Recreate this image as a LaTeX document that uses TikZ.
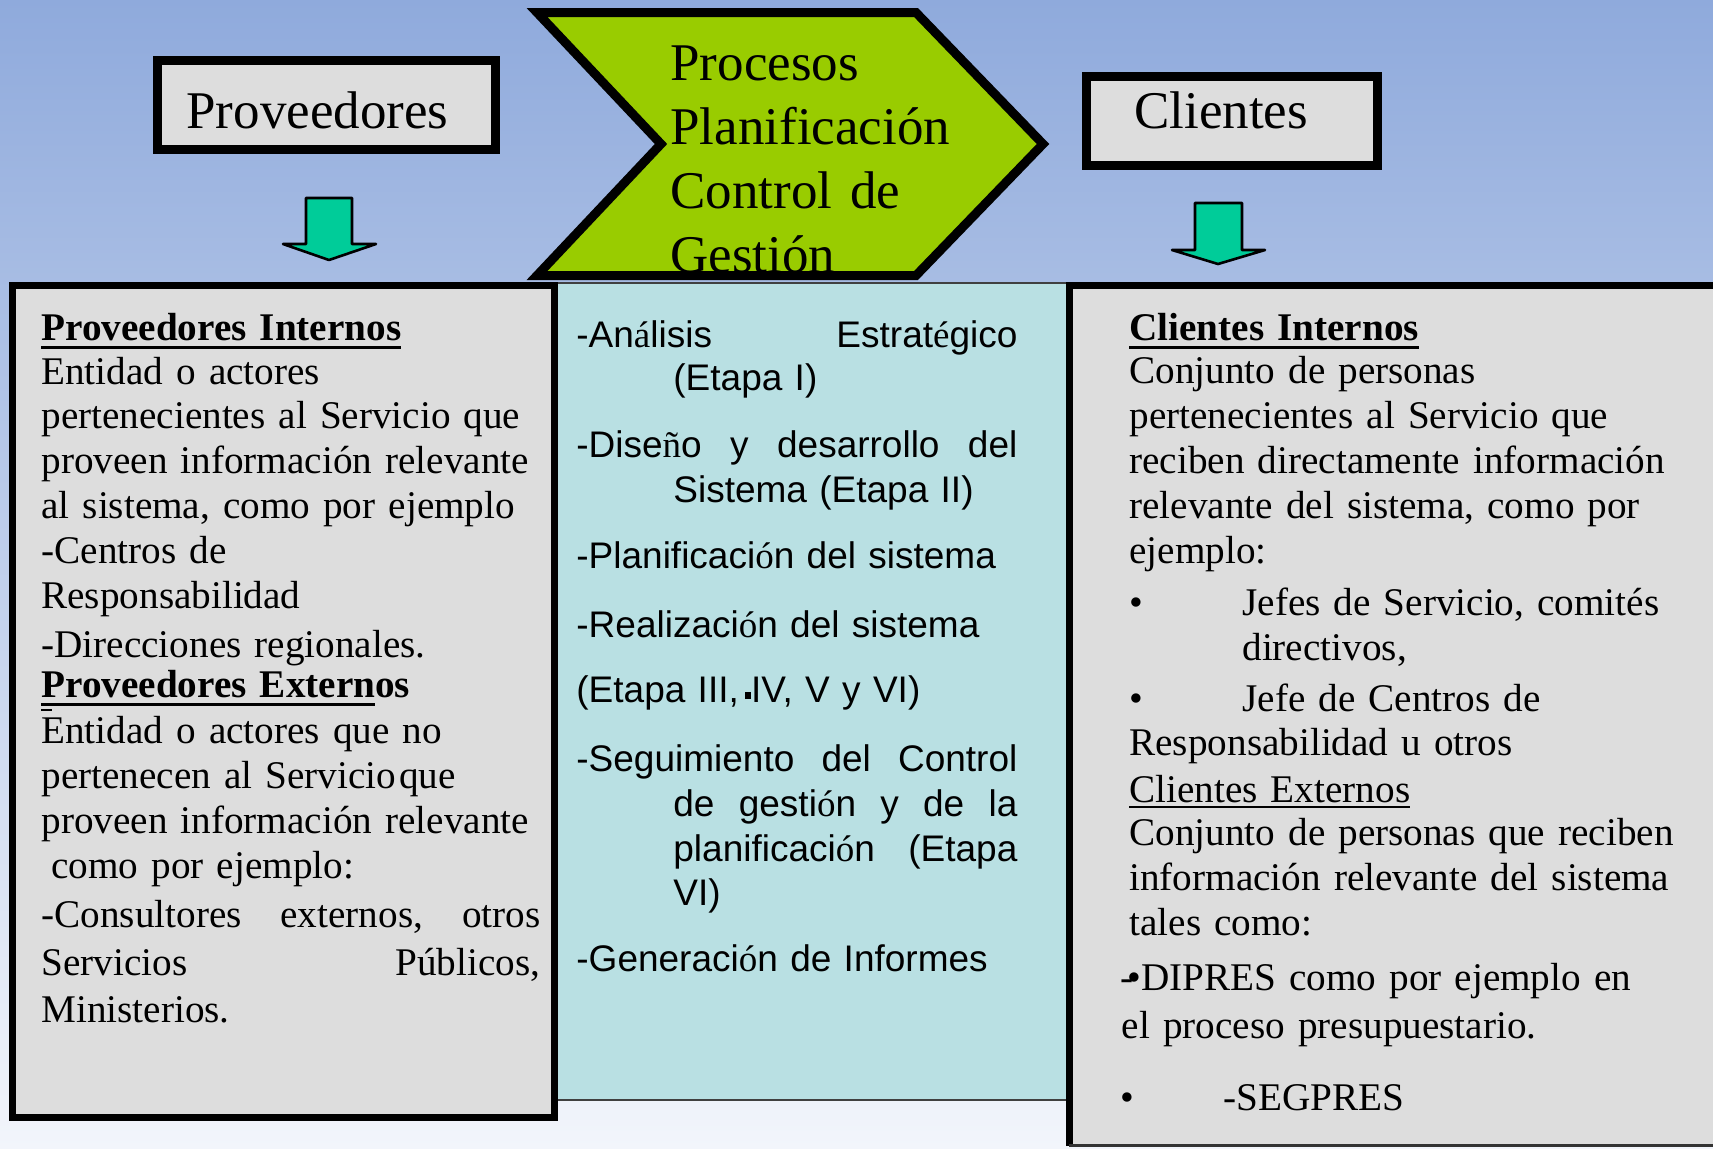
\documentclass[tikz,border=0pt]{standalone}
\usepackage{fontspec}
\setmainfont{Liberation Serif}
\newfontfamily\arialf{Liberation Sans}

\definecolor{bgtop}{RGB}{143,170,220}
\definecolor{bgbot}{RGB}{242,245,251}
\definecolor{boxgray}{RGB}{221,221,221}
\definecolor{procfill}{RGB}{185,224,227}
\definecolor{chevgreen}{RGB}{153,204,0}
\definecolor{arrowgreen}{RGB}{0,204,153}

% underline with own depth and thickness
\newcommand{\ulin}[3]{\leavevmode\setbox0\hbox{#3}\rlap{\rule[#1]{\wd0}{#2}}\box0}
% accented letters came out in the serif face
\newcommand{\sr}[1]{{\rmfamily #1}}
% justified line of given width
\newcommand{\jl}[2]{\leavevmode\hbox to #1{#2}}

\begin{document}
\begin{tikzpicture}[x=0.5pt,y=0.5pt,yscale=-1,
  panel/.style={line width=3.5pt},
  titletext/.style={inner sep=0pt,anchor=base west,font=\fontsize{26.5}{32}\selectfont},
  bodytext/.style={inner sep=0pt,anchor=base west,align=left,font=\fontsize{19.6}{22.5}\selectfont},
  blockarrow/.style={fill=arrowgreen,draw=black,line width=1.3pt,line join=round}]
\useasboundingbox (0,0) rectangle (1713,1148);

%Background
\shade[top color=bgtop,bottom color=bgbot] (0,0) rectangle (1713,1148);

%Middle panel
\filldraw[fill=procfill,draw=black!75,line width=1pt] (557,283) rectangle (1068,1100);
%Left panel
\filldraw[fill=boxgray,panel] (12.5,285.5) rectangle (554.5,1117.5);
%Right panel
\fill[boxgray] (1069,285.5) rectangle (1725,1145);
\draw[panel] (1069,1146) -- (1069,285.5) -- (1725,285.5);
\draw[line width=1.2pt,draw=black!80] (1069,1145.5) -- (1725,1145.5);

%Header boxes
\filldraw[fill=boxgray,line width=4.5pt] (157.5,60.5) rectangle (495.5,149.5);
\filldraw[fill=boxgray,line width=4.5pt] (1086.5,76.5) rectangle (1377.5,165.5);

%Chevron
\fill[chevgreen] (537,12.5) -- (916,12.5) -- (1043,144) -- (916,275.5) -- (537,275.5) -- (661,144) -- cycle;

%Block arrows
\filldraw[blockarrow] (306,198) -- (352,198) -- (352,244) -- (376,244) -- (329,260) -- (283,244) -- (306,244) -- cycle;
\filldraw[blockarrow] (1195,203) -- (1242,203) -- (1242,250) -- (1265,250) -- (1218,264) -- (1172,250) -- (1195,250) -- cycle;

% Text Node
\node[titletext] (prov) at (186,128) {Proveedores};
% Text Node
\node[titletext] (cli) at (1134,128) {Clientes};
% Text Node
\node[titletext,align=left,text width=330pt] (proc) at (670,80) {Procesos\\Planificación\\Control de\\Gestión};

\draw[line width=4.5pt,line join=miter] (537,12.5) -- (916,12.5) -- (1043,144) -- (916,275.5) -- (537,275.5) -- (661,144) -- cycle;

% Text Node
\node[bodytext,text width=300pt] (provtext) at (41,340) {%
\ulin{-4.5pt}{1.3pt}{\textbf{Proveedores Internos}}\\[-0.5pt]
Entidad o actores\\[-0.5pt]
pertenecientes al Servicio que\\
proveen información relevante\\
al sistema, como por ejemplo\\
-Centros de\\
Responsabilidad\\[2pt]
-Direcciones regionales.\\[-2.5pt]
\ulin{-4.5pt}{1.3pt}{\textbf{Proveedores Extern}}\textbf{os}\\[0.5pt]
Entidad o actores que no\\
pertenecen al Servicio\kern1.5pt que\\
proveen información relevante\\
\hspace*{5pt}como por ejemplo:\\[2pt]
\jl{249.5pt}{-Consultores\hfill externos,\hfill otros}\\[1.5pt]
\jl{249.5pt}{Servicios\hfill Públicos,}\\[1pt]
Ministerios.};
\draw[line width=1pt] (41,710) -- (52,710);

% Text Node
\node[bodytext,font=\fontsize{18.5}{22}\arialf,text width=240pt] (midtext) at (576,347) {%
\jl{220.5pt}{-An\sr{á}lisis\hfill Estrat\sr{é}gico}\\[-0.5pt]
\hspace*{48.5pt}(Etapa I)\\[11.5pt]
\jl{220.5pt}{-Dise\sr{ñ}o\hfill y\hfill desarrollo\hfill del}\\[0.5pt]
\hspace*{48.5pt}Sistema (Etapa II)\\[11pt]
-Planificaci\sr{ó}n del sistema\\[12.5pt]
-Realizaci\sr{ó}n del sistema\\[10.5pt]
(Etapa III,\,\rule[1.5pt]{3pt}{3.5pt}IV, V y VI)\\[12.5pt]
\jl{220.5pt}{-Seguimiento\hfill del\hfill Control}\\[0.5pt]
\hspace*{48.5pt}\jl{172pt}{de\hfill gesti\sr{ó}n\hfill y\hfill de\hfill la}\\[0.5pt]
\hspace*{48.5pt}\jl{172pt}{planificaci\sr{ó}n\hfill (Etapa}\\
\hspace*{48.5pt}VI)\\[11pt]
-Generaci\sr{ó}n de Informes};

% Text Node
\node[bodytext,text width=300pt] (clitext) at (1129,340) {%
\ulin{-4.5pt}{1.3pt}{\textbf{Clientes Internos}}\\[-1pt]
Conjunto de personas\\
pertenecientes al Servicio que\\
reciben directamente información\\
relevante del sistema, como por\\
ejemplo:\\[3.5pt]
\makebox[56.5pt][l]{•}Jefes de Servicio, comités\\
\hspace*{56.5pt}directivos,\\[3pt]
\makebox[56.5pt][l]{•}Jefe de Centros de\\[-0.5pt]
Responsabilidad u otros\\[1pt]
\ulin{-3.2pt}{1pt}{Clientes Externos}\\[-1pt]
Conjunto de personas que reciben\\
información relevante del sistema\\
tales como:\\[5pt]
\hspace*{-4.5pt}\rlap{-}\kern3.5pt•DIPRES como por ejemplo en\\[1.5pt]
\hspace*{-3.75pt}el proceso presupuestario.\\[13.5pt]
\hspace*{-4.5pt}\makebox[51.5pt][l]{•}-SEGPRES};

\end{tikzpicture}
\end{document}
